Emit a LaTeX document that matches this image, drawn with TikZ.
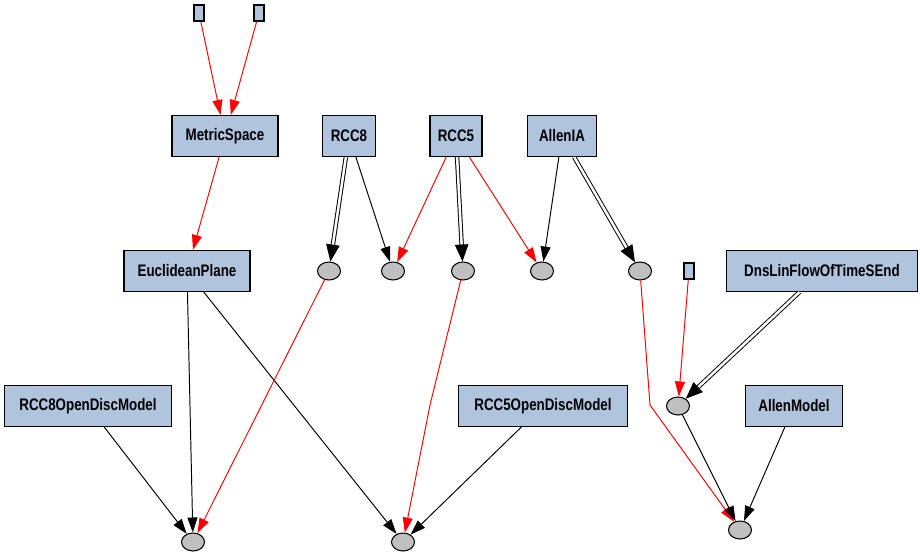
\documentclass[tikz,border=0pt]{standalone}
\usepackage{fontspec}
\setmainfont{Liberation Sans}
\newfontfamily\boxfont[FakeStretch=0.8]{Liberation Sans}
\definecolor{cls_fill}{RGB}{176, 196, 222}
\definecolor{anon_fill}{RGB}{192, 192, 192}
\usetikzlibrary{arrows.meta, positioning, shapes.geometric}

\begin{document}
\begin{tikzpicture}[x=0.02cm, y=-0.02cm,
        cls/.style={rectangle, draw=black, line width=0.7pt, fill=cls_fill, inner sep=0pt,
                    minimum height=0.82cm, font=\boxfont\bfseries\fontsize{9.5}{11}\selectfont},
        anon/.style={ellipse, draw=black, line width=0.6pt, fill=anon_fill, inner sep=0pt,
                     minimum width=0.46cm, minimum height=0.36cm},
        stub/.style={rectangle, draw=black, line width=0.6pt, fill=cls_fill, inner sep=0pt,
                     minimum width=0.2cm, minimum height=0.32cm},
        arr/.style={-{Triangle[length=0.3cm, width=0.2cm]}, line width=0.55pt, color=black},
        rarr/.style={arr, color=red},
        dbl/.style={-{Triangle[length=0.34cm, width=0.27cm]}, draw=black, line width=0.55pt,
                    double=white, double distance=0.05cm},
      ]
        \useasboundingbox (0,0) rectangle (920,555);

        % top row
        \node[stub] (s1) at (199, 13) {};
        \node[stub] (s2) at (259, 13) {};
        \node[cls, minimum width=2.12cm] (metric) at (225, 136) {MetricSpace};
        \node[cls, minimum width=1.06cm] (rcc8)   at (349, 136) {RCC8};
        \node[cls, minimum width=1.04cm] (rcc5)   at (456, 136) {RCC5};
        \node[cls, minimum width=1.38cm] (allen)  at (562, 136) {AllenIA};

        % middle row
        \node[cls, minimum width=2.52cm] (eucl) at (187, 271) {EuclideanPlane};
        \node[anon] (a1) at (329, 271) {};
        \node[anon] (a2) at (393, 271) {};
        \node[anon] (a3) at (463, 271) {};
        \node[anon] (a4) at (542, 271) {};
        \node[anon] (a5) at (640, 271) {};
        \node[stub] (s3) at (689, 271) {};
        \node[cls, minimum width=3.82cm] (dns) at (822, 271) {DnsLinFlowOfTimeSEnd};

        % models
        \node[cls, minimum width=3.34cm] (rcc8m)  at (88, 406)  {RCC8OpenDiscModel};
        \node[cls, minimum width=3.38cm] (rcc5m)  at (543, 406) {RCC5OpenDiscModel};
        \node[anon] (a6) at (678, 406) {};
        \node[cls, minimum width=1.94cm] (allenm) at (794, 406) {AllenModel};

        % bottom row
        \node[anon] (b1) at (193, 542) {};
        \node[anon] (b2) at (403, 542) {};
        \node[anon] (b3) at (740, 530) {};

        \coordinate (k1) at (430, 405);
        \coordinate (k2) at (650, 405);

        \draw[rarr] (s1) -- (metric);
        \draw[rarr] (s2) -- (metric);
        \draw[rarr] (metric) -- (eucl);

        \draw[dbl] (rcc8) -- (a1);
        \draw[arr] (rcc8) -- (a2);
        \draw[rarr] (rcc5) -- (a2);
        \draw[dbl] (rcc5) -- (a3);
        \draw[rarr] (rcc5) -- (a4);
        \draw[arr] (allen) -- (a4);
        \draw[dbl] (allen) -- (a5);

        \draw[arr] (eucl) -- (b1);
        \draw[arr] (eucl) -- (b2);
        \draw[rarr] (a1) -- (b1);
        \draw[arr] (rcc8m) -- (b1);
        \draw[rarr] (a3) -- (k1) -- (b2);
        \draw[arr] (rcc5m) -- (b2);

        \draw[rarr] (s3) -- (a6);
        \draw[dbl] (dns) -- (a6);
        \draw[rarr] (a5) -- (k2) -- (b3);
        \draw[arr] (a6) -- (b3);
        \draw[arr] (allenm) -- (b3);
      \end{tikzpicture}
\end{document}
